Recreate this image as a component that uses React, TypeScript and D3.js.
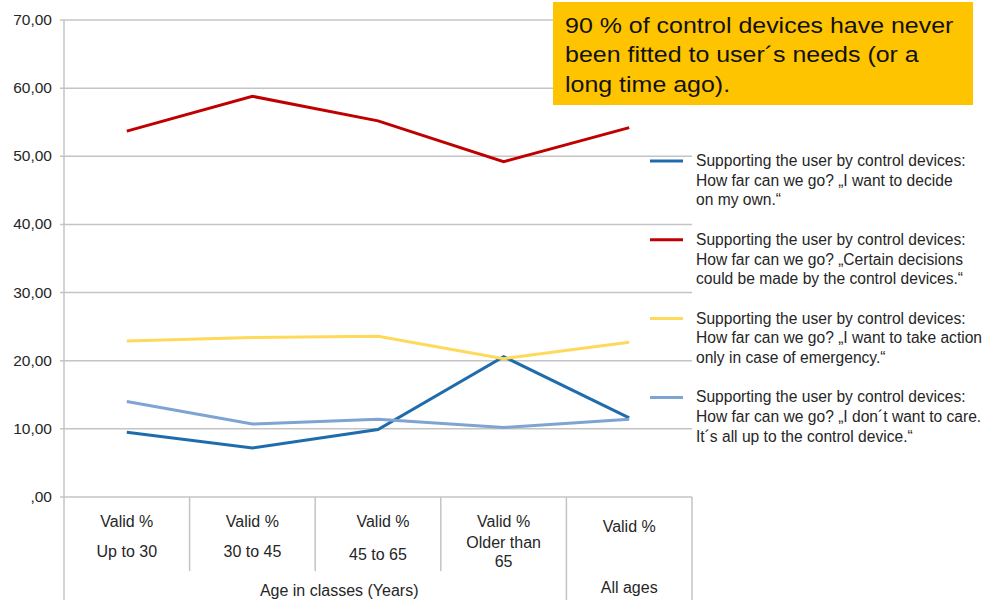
import React from "react";
import * as d3 from "d3";

// Age classes shown along the x axis (last one is the overall total)
const categories = ["Up to 30", "30 to 45", "45 to 65", "Older than 65", "All ages"];
const categoryLines = [["Up to 30"], ["30 to 45"], ["45 to  65"], ["Older than", "65"], []];

// Valid % per answer, one value per age class
const decideOwn = [9.5, 7.2, 9.9, 20.6, 11.6];
const certainDecisions = [53.7, 58.8, 55.2, 49.2, 54.2];
const emergencyOnly = [22.9, 23.4, 23.6, 20.3, 22.7];
const dontCare = [14.0, 10.7, 11.4, 10.2, 11.4];

const yTicks = [0, 10, 20, 30, 40, 50, 60, 70];

const seriesNames = [
  ["Supporting the user by control devices:", "How far can we go? \u201EI want to decide", "on my own.\u201C"],
  ["Supporting the user by control devices:", "How far can we go? \u201ECertain decisions", "could be made by the control devices.\u201C"],
  ["Supporting the user by control devices:", "How far can we go? \u201EI want to take action", "only in case of emergency.\u201C"],
  ["Supporting the user by control devices:", "How far can we go? \u201EI don\u00B4t want to care.", "It\u00B4s all up to the control device.\u201C"],
];

const calloutLines = [
  "90 % of control devices have never",
  "been fitted to user\u00B4s needs (or a",
  "long time ago).",
];

const series = [
  { values: decideOwn, color: "#1F6CAD" },
  { values: certainDecisions, color: "#C00000" },
  { values: emergencyOnly, color: "#FFD95A" },
  { values: dontCare, color: "#7FA3D3" },
];

const W = 986;
const H = 604;
const plot = { left: 64, right: 692, top: 20, bottom: 497 };
const font = "'Liberation Sans', Arial, sans-serif";
const textColor = "#262626";
const gridColor = "#C4C4C4";

const fmt = (v: number) => (v === 0 ? ",00" : v.toFixed(2).replace(".", ","));

export default function App() {
  const y = d3.scaleLinear().domain([0, 70]).range([plot.bottom, plot.top]);
  const x = d3.scaleBand<string>().domain(categories).range([plot.left, plot.right]);
  const cx = (i: number) => (x(categories[i]) as number) + x.bandwidth() / 2;
  const line = d3
    .line<number>()
    .x((_, i) => cx(i))
    .y((d) => y(d));

  const band = x.bandwidth();
  const dividers = categories.map((c) => x(c) as number);

  return (
    <svg
      width={W}
      height={H}
      style={{ position: "absolute", left: 0, top: 0, background: "#fff" }}
      fontFamily={font}
    >
      {/* gridlines and y tick labels */}
      {yTicks.map((t) => (
        <g key={t}>
          <line x1={plot.left - 4} x2={plot.right} y1={y(t)} y2={y(t)} stroke={gridColor} strokeWidth={1.5} />
          <text x={52} y={y(t) + 5} textAnchor="end" fontSize={15.5} fill={textColor}>
            {fmt(t)}
          </text>
        </g>
      ))}
      {/* y axis, extended into the category table */}
      <line x1={plot.left} x2={plot.left} y1={plot.top} y2={600} stroke={gridColor} strokeWidth={1.5} />
      {/* category table dividers */}
      {dividers.slice(1, 4).map((d, i) => (
        <line key={i} x1={d} x2={d} y1={plot.bottom} y2={571} stroke={gridColor} strokeWidth={1.5} />
      ))}
      <line x1={dividers[4]} x2={dividers[4]} y1={plot.bottom} y2={600} stroke={gridColor} strokeWidth={1.5} />
      <line x1={plot.right} x2={plot.right} y1={plot.bottom} y2={600} stroke={gridColor} strokeWidth={1.5} />

      {/* category labels */}
      {categories.map((c, i) => {
        const lines = categoryLines[i];
        const isTotal = i === 4;
        return (
          <g key={c} fontSize={16} fill={textColor} textAnchor="middle">
            <text x={cx(i) + (i === 2 ? 5 : 0)} y={isTotal ? 532 : 527}>Valid %</text>
            {lines.length === 1 && (
              <text x={cx(i)} y={i === 2 ? 560 : 557}>{lines[0]}</text>
            )}
            {lines.length === 2 && (
              <>
                <text x={cx(i)} y={548}>{lines[0]}</text>
                <text x={cx(i)} y={567}>{lines[1]}</text>
              </>
            )}
          </g>
        );
      })}
      <text x={(plot.left + dividers[4]) / 2 + 24} y={596} fontSize={16} fill={textColor} textAnchor="middle">
        Age in classes (Years)
      </text>
      <text x={dividers[4] + band / 2} y={593} fontSize={16} fill={textColor} textAnchor="middle">
        All ages
      </text>

      {/* series lines */}
      {series.map((s, i) => (
        <path key={i} d={line(s.values) || ""} fill="none" stroke={s.color} strokeWidth={3} strokeLinejoin="miter" />
      ))}

      {/* legend */}
      {series.map((s, i) => {
        const ly = 161 + i * 78.8;
        return (
          <g key={i}>
            <line x1={650} x2={683} y1={ly} y2={ly} stroke={s.color} strokeWidth={3} />
            {seriesNames[i].map((t, j) => (
              <text key={j} x={696} y={ly + 5 + j * 19.7} fontSize={15.6} fill={textColor}>
                {t}
              </text>
            ))}
          </g>
        );
      })}

      {/* callout */}
      <rect x={553} y={2} width={420} height={103} fill="#FFC400" />
      <g transform="translate(565,0) scale(1.11,1)">
        {calloutLines.map((t, i) => (
          <text key={i} x={0} y={33 + i * 29.5} fontSize={22.5} fill="#111">
            {t}
          </text>
        ))}
      </g>
    </svg>
  );
}
